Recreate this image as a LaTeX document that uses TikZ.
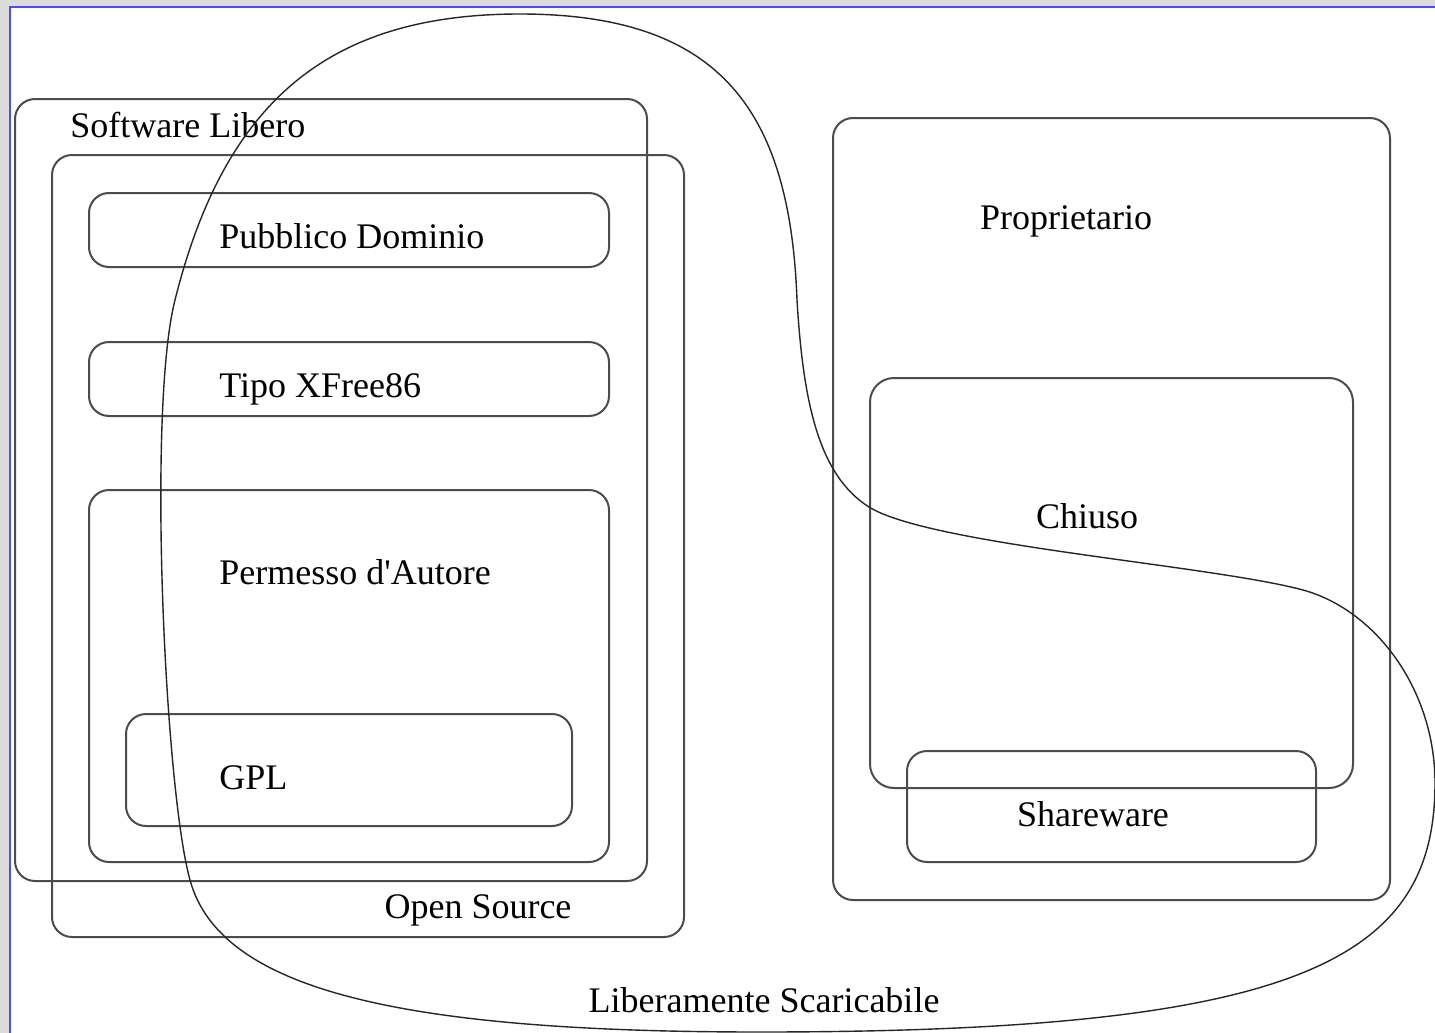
\documentclass[tikz,border=0pt]{standalone}
\usepackage{fontspec}
\setmainfont{Liberation Serif}
\begin{document}
\begin{tikzpicture}[x=0.5pt, y=-0.5pt,
	box/.style={draw=black!70, line width=1pt, rounded corners=10pt},
	lbl/.style={font=\fontsize{18}{22}\selectfont, inner sep=0pt},
	blob/.style={draw=black!85, line width=0.7pt}]
	\useasboundingbox (0,0) rectangle (1435,1033);
	% window frame
	\fill[black!14] (0,0) rectangle (1435,1033);
	\fill[white] (10,7) rectangle (1435,1033);
	\draw[blue!70, line width=0.6pt] (10,1033) -- (10,7) -- (1435,7);

	% free software side
	\draw[box] (15,99) rectangle (647,881);
	\draw[box] (52,155) rectangle (684,937);
	\draw[box] (89,193) rectangle (609,267);
	\draw[box] (89,342) rectangle (609,416);
	\draw[box] (89,490) rectangle (609,862);
	\draw[box] (126,714) rectangle (572,826);
	\node[lbl, anchor=base west](libero) at (70,137){Software Libero};
	\node[lbl, anchor=base](opensrc) at (478,918){Open Source};
	\node[lbl, anchor=base west](pubdom) at (219,248){Pubblico Dominio};
	\node[lbl, anchor=base west](xfree) at (219,397){Tipo XFree86};
	\node[lbl, anchor=base west](permesso) at (219,584){Permesso d\textquotesingle Autore};
	\node[lbl, anchor=base west](gpl) at (219,789){GPL};

	% proprietary side
	\draw[box] (833,118) rectangle (1390,900);
	\draw[box, rounded corners=12pt] (870,378) rectangle (1353,788);
	\draw[box] (907,751) rectangle (1316,862);
	\node[lbl, anchor=base](propr) at (1066,229){Proprietario};
	\node[lbl, anchor=base](chiuso) at (1087,528){Chiuso};
	\node[lbl, anchor=base](share) at (1093,826){Shareware};

	% freely downloadable
	\draw[blob] (520,14) .. controls (720,14) and (790,110) .. (797,300)
		.. controls (803,400) and (818,475) .. (869,507)
		.. controls (930,545) and (1210,565) .. (1303,590)
		.. controls (1376,610) and (1435,690) .. (1435,783)
		.. controls (1435,960) and (1300,1032) .. (760,1032)
		.. controls (400,1032) and (220,990) .. (190,880)
		.. controls (165,790) and (147,410) .. (175,300)
		.. controls (225,100) and (330,14) .. cycle;
	\node[lbl, anchor=base](scaric) at (764,1012){Liberamente Scaricabile};
\end{tikzpicture}
\end{document}
